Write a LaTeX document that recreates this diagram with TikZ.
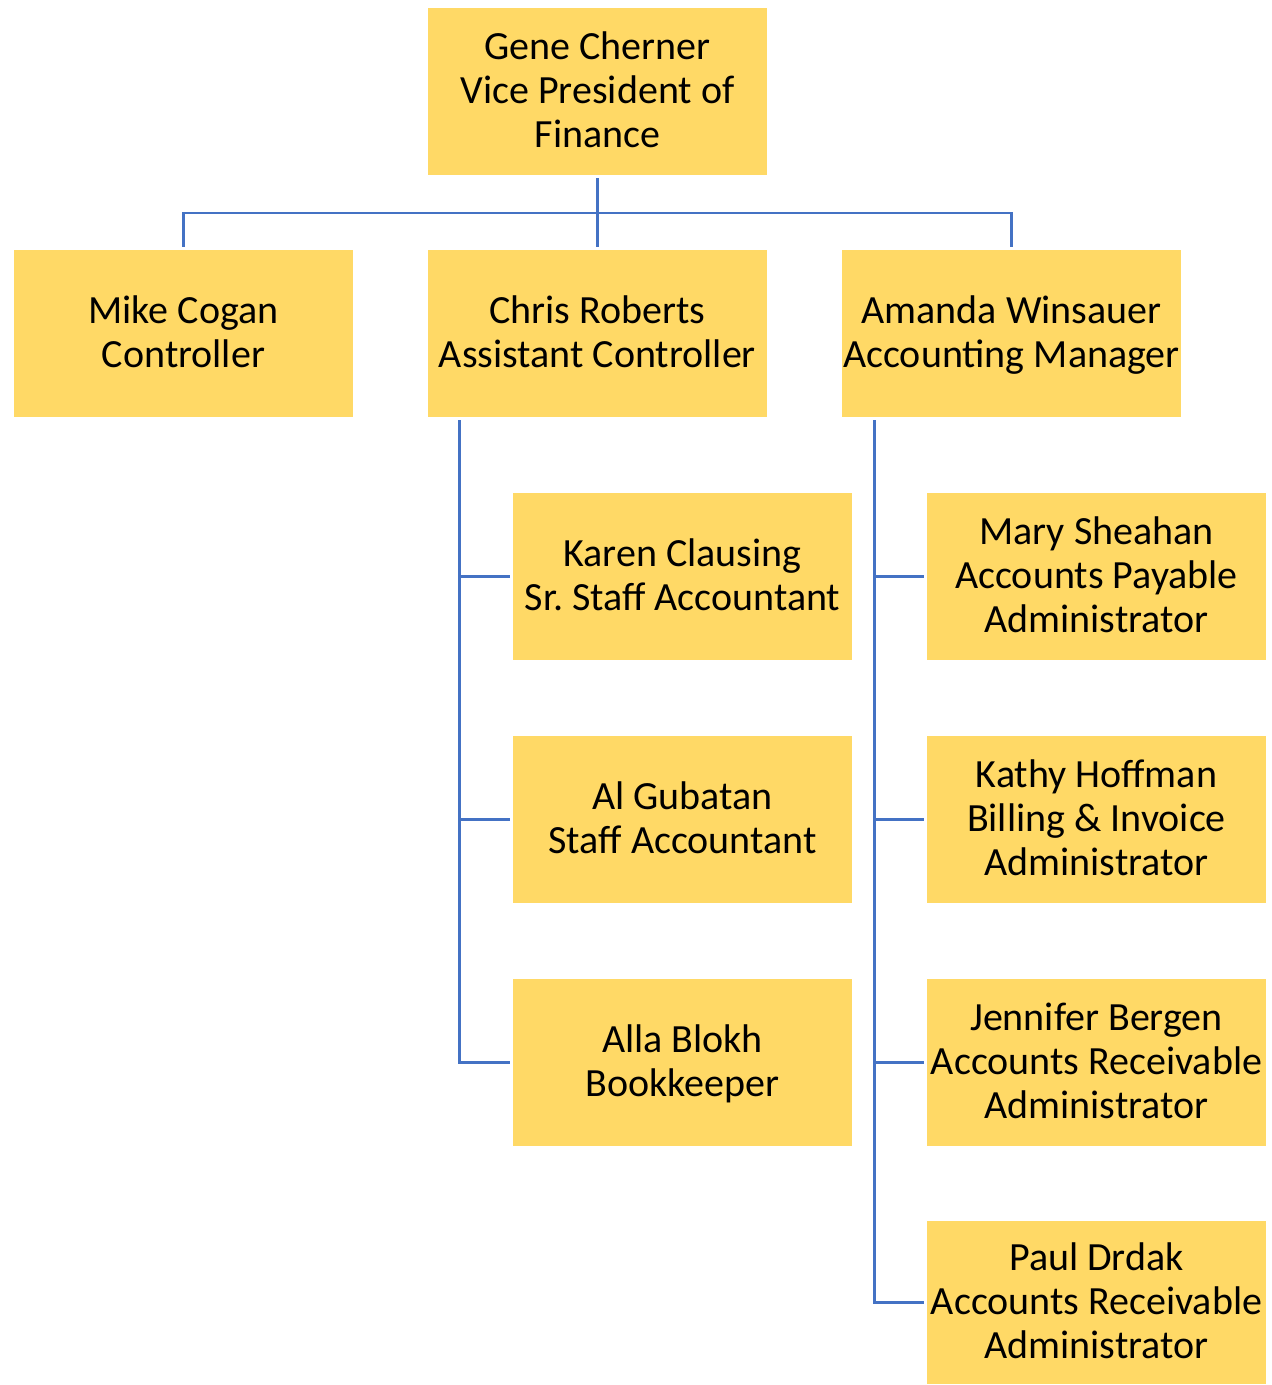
\documentclass[tikz,border=0pt]{standalone}
\usepackage{fontspec}
\setmainfont{Carlito}
\usepackage{xcolor}
\definecolor{boxfill}{HTML}{FFD966}
\definecolor{linkblue}{HTML}{4472C4}
\tikzset{
  person/.style={fill=boxfill,minimum width=169.5pt,minimum height=83.5pt,align=center,inner sep=0pt,
    font=\fontsize{20}{22}\selectfont,execute at begin node=\strut,text depth=1.6pt},
  link/.style={draw=linkblue,line width=1.2pt,shorten <=1.5pt,shorten >=1.5pt}
}
\begin{document}
\begin{tikzpicture}[x=0.5pt,y=-0.5pt]
    \useasboundingbox (0,0) rectangle (1271,1385);
    \node[person] (vp) at (597.5,91.5) {Gene Cherner\\Vice President of\\Finance};
    \node[person] (mike) at (183.5,333.5) {Mike Cogan\\Controller};
    \node[person] (chris) at (597.5,333.5) {Chris Roberts\\Assistant Controller};
    \node[person] (amanda) at (1011.5,333.5) {Amanda Winsauer\\Accounting Manager};
    \node[person] (karen) at (682.5,576.5) {Karen Clausing\\Sr.\ Staff Accountant};
    \node[person] (al) at (682.5,819.5) {Al Gubatan\\Staff Accountant};
    \node[person] (alla) at (682.5,1062.5) {Alla Blokh\\Bookkeeper};
    \node[person] (mary) at (1096.5,576.5) {Mary Sheahan\\Accounts Payable\\Administrator};
    \node[person] (kathy) at (1096.5,819.5) {Kathy Hoffman\\Billing \& Invoice\\Administrator};
    \node[person] (jennifer) at (1096.5,1062.5) {Jennifer Bergen\\Accounts Receivable\\Administrator};
    \node[person,minimum height=81.5pt] (paul) at (1096.5,1302.5) {Paul Drdak\\Accounts Receivable\\Administrator};
    % top level bus
    \coordinate (bus) at (597.5,213);
    \draw[link,shorten >=0pt] (vp.south) -- (bus);
    \draw[link,shorten <=0pt] (bus) -| (mike.north);
    \draw[link,shorten <=0pt] (bus) -- (chris.north);
    \draw[link,shorten <=0pt] (bus) -| (amanda.north);
    % assistant controller's staff
    \coordinate (chrisdown) at ([xshift=16pt]chris.south west);
    \draw[link] (chrisdown) |- (karen.west);
    \draw[link] (chrisdown) |- (al.west);
    \draw[link] (chrisdown) |- (alla.west);
    % accounting manager's staff
    \coordinate (amandadown) at ([xshift=16.5pt]amanda.south west);
    \draw[link] (amandadown) |- (mary.west);
    \draw[link] (amandadown) |- (kathy.west);
    \draw[link] (amandadown) |- (jennifer.west);
    \draw[link] (amandadown) |- (paul.west);
\end{tikzpicture}
\end{document}
